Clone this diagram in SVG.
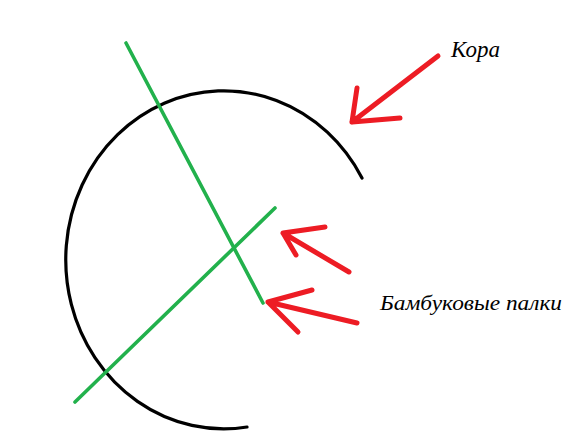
<svg xmlns="http://www.w3.org/2000/svg" width="570" height="448" viewBox="0 0 570 448">
<style>
.bark{fill:none;stroke:#000;stroke-width:3.2;stroke-linecap:round}
.stick{fill:none;stroke:#22b14c;stroke-width:3.6;stroke-linecap:round}
.arrow{fill:none;stroke:#ed1c24;stroke-width:5;stroke-linecap:round;stroke-linejoin:round}
.lbl{font-family:"Liberation Serif","DejaVu Serif",serif;font-style:italic;fill:#000}
</style>
<rect width="570" height="448" fill="#fff"/>
<g id="bark">
<path class="bark" d="M 362 178 A 158 169 0 1 0 247 427"/>
</g>
<g id="sticks">
<line class="stick" x1="126" y1="43" x2="263" y2="303"/>
<line class="stick" x1="75" y1="402" x2="275" y2="208"/>
</g>
<g id="connectors">
<path class="arrow" d="M 438 56 L 352 122 M 357 88 L 352 122 L 400 118"/>
<path class="arrow" d="M 349 272 L 283 233 M 325 227 L 283 233 L 296 255"/>
<path class="arrow" d="M 357 323 L 268 302 M 312 290 L 268 302 L 298 332"/>
</g>
<g id="label-kora">
<text class="lbl" x="451" y="57" font-size="23">Кора</text>
</g>
<g id="label-bamboo">
<text class="lbl" x="380" y="310" font-size="21" textLength="182" lengthAdjust="spacingAndGlyphs">Бамбуковые палки</text>
</g>
</svg>
